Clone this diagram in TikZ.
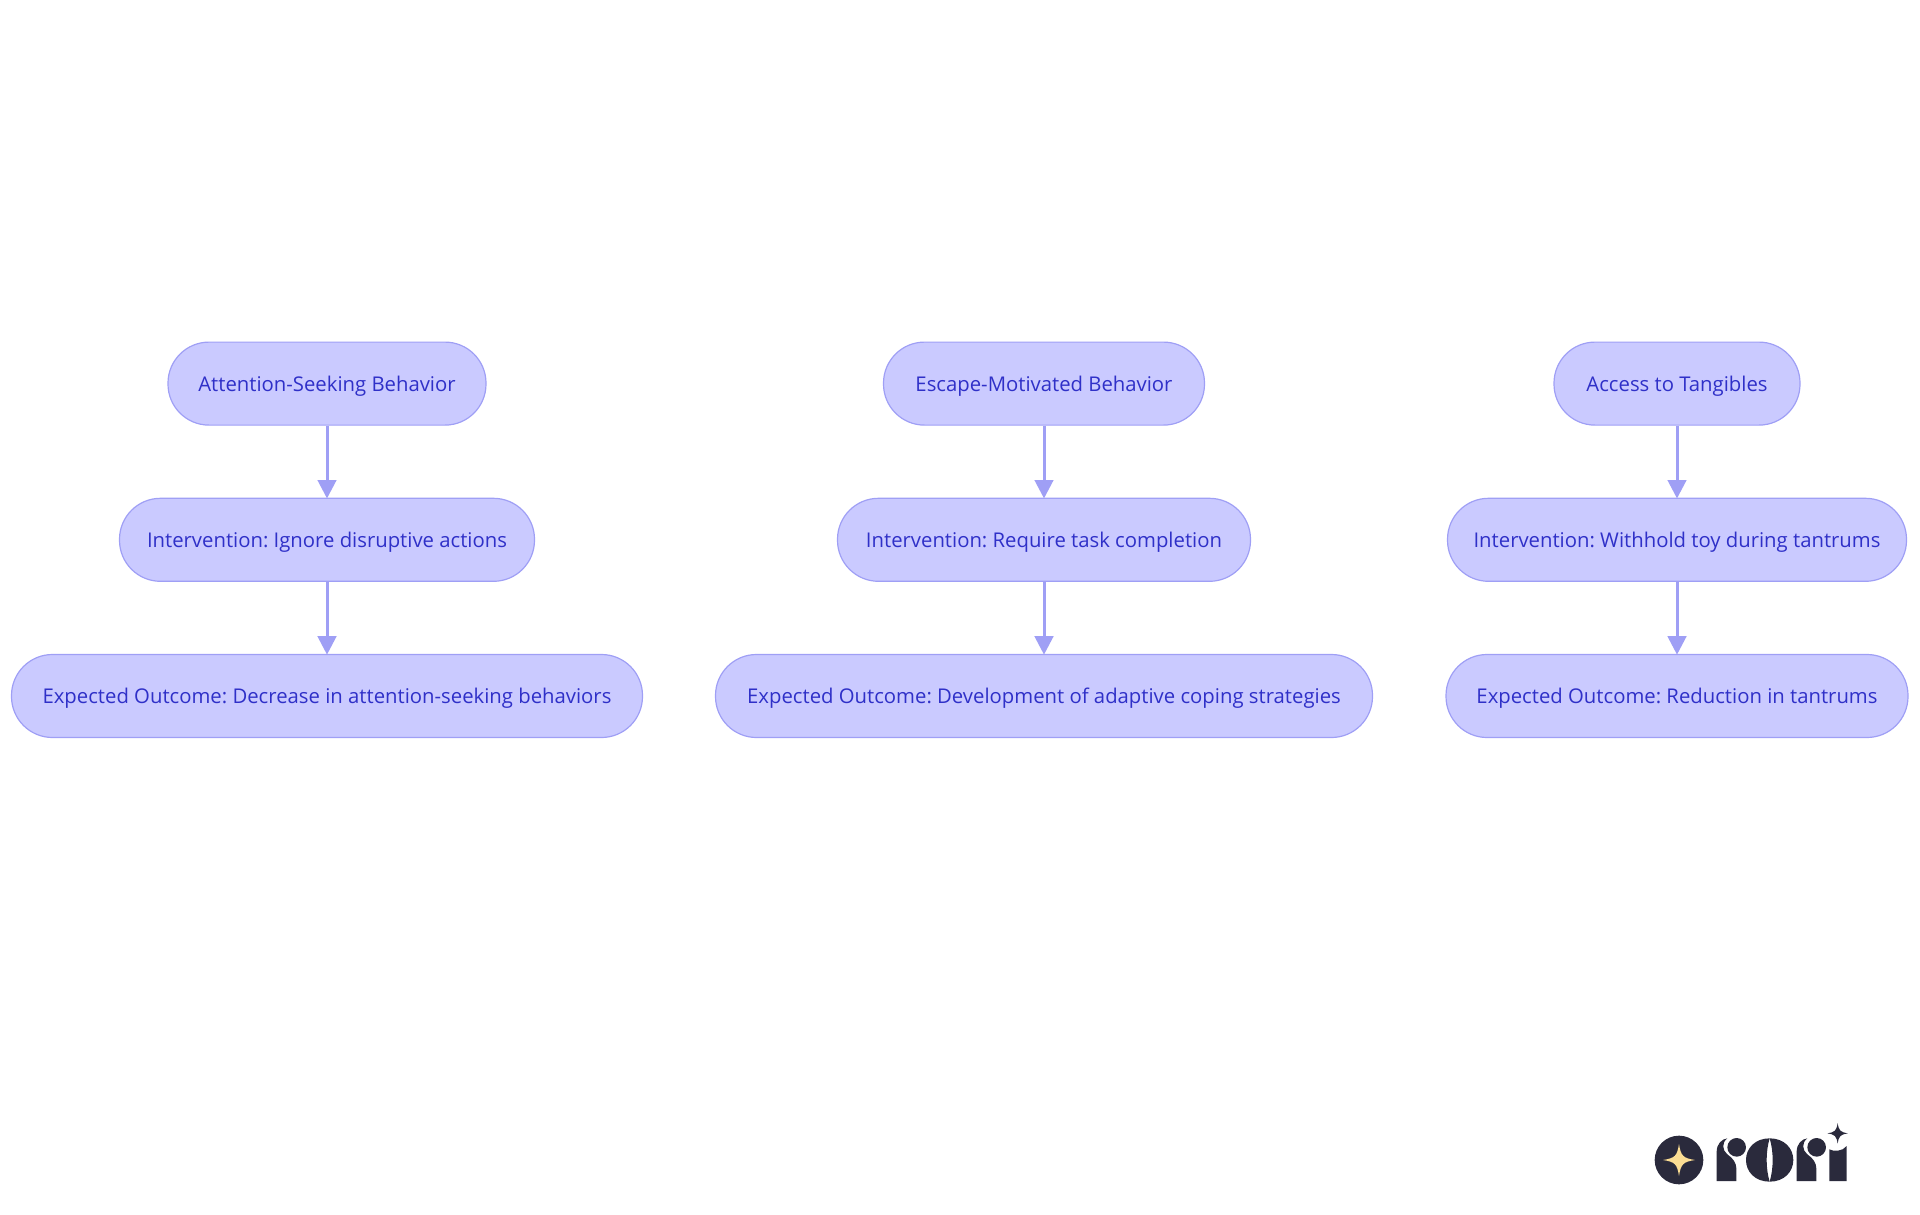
\documentclass[tikz,border=0pt]{standalone}
\usepackage{fontspec}
\setmainfont{Open Sans}
\usetikzlibrary{arrows.meta}
\definecolor{boxfill}{HTML}{CACAFF}
\definecolor{boxline}{HTML}{9F9FF5}
\definecolor{boxtext}{HTML}{2F30C8}
\definecolor{logodark}{HTML}{2A2A3C}
\definecolor{logostar}{HTML}{FBDD93}
\tikzset{
  pill/.style={draw=boxline, fill=boxfill, text=boxtext, line width=1.2pt, rounded corners=41pt,
    minimum height=83pt, inner sep=0pt, text height=20pt, text depth=5pt,
    font=\fontsize{20.3}{24}\selectfont\frenchspacing},
  link/.style={draw=boxline, line width=3pt, shorten >=-0.8pt, -{Triangle[length=18.5pt,width=18.5pt]}},
  sparkle/.pic={\fill (-1,0) .. controls (-0.25,-0.12) and (-0.12,-0.25) .. (0,-1)
    .. controls (0.12,-0.25) and (0.25,-0.12) .. (1,0)
    .. controls (0.25,0.12) and (0.12,0.25) .. (0,1)
    .. controls (-0.12,0.25) and (-0.25,0.12) .. (-1,0) -- cycle;}
}
\begin{document}
\begin{tikzpicture}[x=1pt, y=-1pt]
  \useasboundingbox (0,0) rectangle (1920,1215);
  \node[pill, minimum width=318pt] (a1) at (327,383.6) {Attention-Seeking Behavior};
  \node[pill, minimum width=415pt] (a2) at (327,539.8) {Intervention: Ignore disruptive actions};
  \node[pill, minimum width=631pt] (a3) at (327,696) {Expected Outcome: Decrease in attention-seeking behaviors};
  \node[pill, minimum width=321pt] (b1) at (1044,383.6) {Escape-Motivated Behavior};
  \node[pill, minimum width=413pt] (b2) at (1044,539.8) {Intervention: Require task completion};
  \node[pill, minimum width=657pt] (b3) at (1044,696) {Expected Outcome: Development of adaptive coping strategies};
  \node[pill, minimum width=246pt] (c1) at (1677,383.6) {Access to Tangibles};
  \node[pill, minimum width=459pt] (c2) at (1677,539.8) {Intervention: Withhold toy during tantrums};
  \node[pill, minimum width=462pt] (c3) at (1677,696) {Expected Outcome: Reduction in tantrums};
  \draw[link] (a1) -- (a2);
  \draw[link] (a2) -- (a3);
  \draw[link] (b1) -- (b2);
  \draw[link] (b2) -- (b3);
  \draw[link] (c1) -- (c2);
  \draw[link] (c2) -- (c3);
  % logo
  \begin{scope}[shift={(1620,1100)}, x=0.3333pt, y=-0.3333pt, fill=logodark]
    \fill (177,180) circle [x radius=73, y radius=73];
    \path[fill=logostar] (177,180) pic[scale=48] {sparkle};
    \fill (290,243) -- (290,155) .. controls (290,132) and (305,117) .. (322,115)
      .. controls (305,128) and (306,150) .. (322,163) .. controls (340,175) and (349,190) .. (349,205) -- (349,243) -- cycle;
    \fill (350,142) circle [x radius=28, y radius=28];
    \fill (449,115) .. controls (405,115) and (378,145) .. (378,180) .. controls (378,215) and (405,245) .. (449,245)
      .. controls (437,205) and (437,155) .. (449,115) -- cycle;
    \fill (449,115) .. controls (493,115) and (520,145) .. (520,180) .. controls (520,215) and (493,245) .. (449,245)
      .. controls (461,205) and (461,155) .. (449,115) -- cycle;
    \fill (530,243) -- (530,155) .. controls (530,132) and (545,117) .. (562,115)
      .. controls (545,128) and (546,150) .. (562,163) .. controls (580,175) and (589,190) .. (589,205) -- (589,243) -- cycle;
    \fill (590,142) circle [x radius=28, y radius=28];
    \fill (628,243) -- (628,148) .. controls (640,155) and (668,155) .. (680,138) -- (680,243) -- cycle;
    \path (653,100) pic[scale=31] {sparkle};
  \end{scope}
\end{tikzpicture}
\end{document}
